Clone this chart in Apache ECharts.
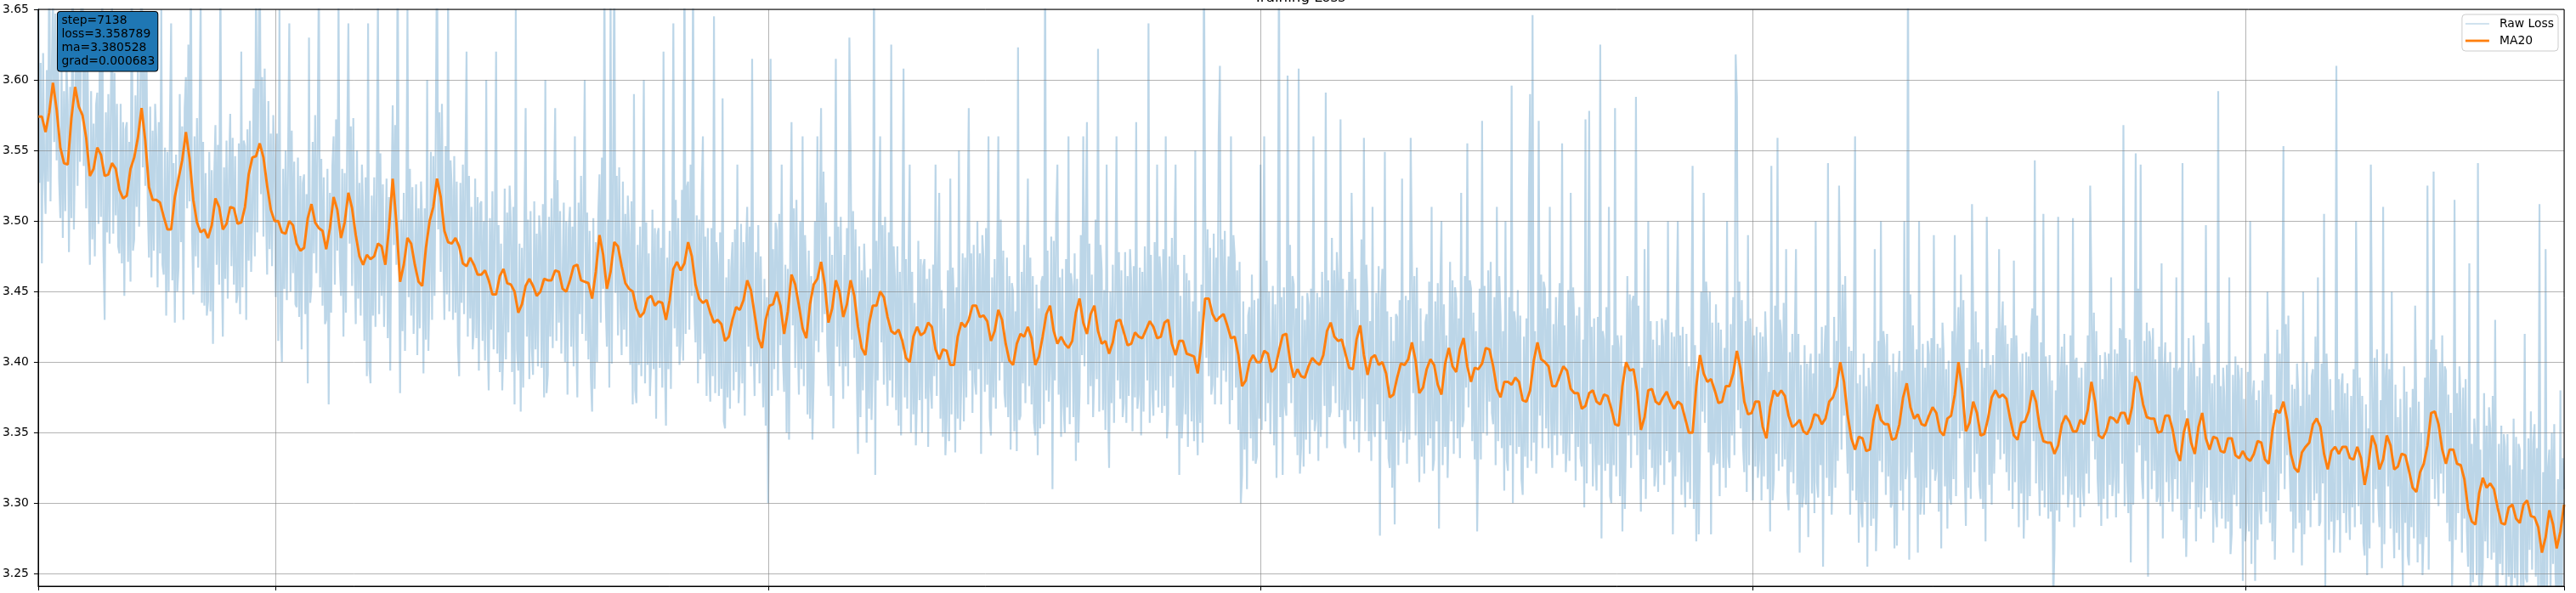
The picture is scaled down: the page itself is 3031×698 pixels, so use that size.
<!DOCTYPE html>
<html>
<head>
<meta charset="utf-8">
<title>Training Loss</title>
<script src="https://cdn.jsdelivr.net/npm/echarts@6.0.0/dist/echarts.min.js"></script>
<style>
  html, body { margin: 0; padding: 0; background: #fff; }
  #chart { width: 3031px; height: 698px; }
</style>
</head>
<body>
<div id="chart"></div>
<script>
// step of the first point and sampling of each series
var STEP_START = 1035;
var RAW_EVERY = 5;
var MA_EVERY = 15;

// raw loss, one value every RAW_EVERY steps
var rawLoss = [
  3.680, 3.527, 3.612, 3.470, 3.619, 3.535, 3.505, 3.607, 3.528, 3.700, 3.514, 3.604, 3.662, 3.556, 3.647, 3.543, 3.634, 3.530, 3.502, 3.609, 3.488, 3.592, 3.507, 3.611, 3.583, 3.478, 3.595, 3.502, 3.720, 3.494,
  3.554, 3.644, 3.525, 3.641, 3.542, 3.659, 3.690, 3.539, 3.622, 3.509, 3.628, 3.531, 3.469, 3.592, 3.487, 3.569, 3.475, 3.582, 3.591, 3.498, 3.614, 3.503, 3.680, 3.480, 3.430, 3.577, 3.492, 3.590, 3.484, 3.584,
  3.660, 3.491, 3.605, 3.504, 3.583, 3.482, 3.477, 3.583, 3.470, 3.570, 3.447, 3.565, 3.570, 3.471, 3.556, 3.457, 3.700, 3.479, 3.487, 3.589, 3.510, 3.608, 3.496, 3.586, 3.720, 3.538, 3.629, 3.525, 3.616, 3.512,
  3.474, 3.581, 3.460, 3.564, 3.479, 3.583, 3.558, 3.453, 3.570, 3.477, 3.650, 3.469, 3.462, 3.552, 3.433, 3.549, 3.450, 3.567, 3.640, 3.458, 3.541, 3.428, 3.547, 3.450, 3.467, 3.590, 3.485, 3.567, 3.430, 3.580,
  3.602, 3.509, 3.625, 3.514, 3.700, 3.491, 3.448, 3.560, 3.475, 3.573, 3.467, 3.567, 3.660, 3.442, 3.556, 3.440, 3.534, 3.433, 3.443, 3.549, 3.436, 3.536, 3.413, 3.531, 3.568, 3.469, 3.554, 3.455, 3.690, 3.477,
  3.418, 3.538, 3.459, 3.557, 3.445, 3.535, 3.576, 3.468, 3.559, 3.455, 3.546, 3.442, 3.448, 3.555, 3.434, 3.620, 3.453, 3.557, 3.553, 3.430, 3.565, 3.472, 3.571, 3.464, 3.504, 3.594, 3.475, 3.680, 3.492, 3.609,
  3.700, 3.519, 3.602, 3.489, 3.608, 3.511, 3.462, 3.585, 3.480, 3.562, 3.468, 3.575, 3.539, 3.446, 3.562, 3.415, 3.650, 3.428, 3.400, 3.537, 3.452, 3.550, 3.444, 3.544, 3.640, 3.450, 3.564, 3.463, 3.542, 3.441,
  3.439, 3.545, 3.432, 3.532, 3.409, 3.527, 3.533, 3.434, 3.519, 3.385, 3.630, 3.442, 3.454, 3.556, 3.477, 3.575, 3.463, 3.553, 3.680, 3.453, 3.544, 3.440, 3.531, 3.427, 3.430, 3.537, 3.370, 3.520, 3.435, 3.539,
  3.560, 3.455, 3.572, 3.479, 3.660, 3.471, 3.447, 3.537, 3.418, 3.534, 3.435, 3.552, 3.640, 3.484, 3.567, 3.454, 3.573, 3.476, 3.427, 3.550, 3.445, 3.527, 3.433, 3.540, 3.508, 3.415, 3.531, 3.390, 3.640, 3.397,
  3.385, 3.518, 3.433, 3.531, 3.425, 3.525, 3.660, 3.434, 3.548, 3.447, 3.526, 3.425, 3.424, 3.530, 3.417, 3.517, 3.394, 3.512, 3.582, 3.483, 3.568, 3.469, 3.700, 3.491, 3.378, 3.501, 3.422, 3.520, 3.408, 3.498,
  3.650, 3.446, 3.537, 3.433, 3.524, 3.420, 3.419, 3.526, 3.405, 3.509, 3.424, 3.528, 3.497, 3.392, 3.509, 3.416, 3.600, 3.408, 3.459, 3.549, 3.430, 3.546, 3.447, 3.564, 3.700, 3.494, 3.577, 3.464, 3.583, 3.486,
  3.430, 3.553, 3.448, 3.660, 3.436, 3.543, 3.523, 3.430, 3.546, 3.435, 3.528, 3.412, 3.390, 3.527, 3.442, 3.540, 3.434, 3.534, 3.620, 3.418, 3.532, 3.431, 3.510, 3.409, 3.424, 3.530, 3.417, 3.517, 3.394, 3.512,
  3.514, 3.415, 3.500, 3.401, 3.600, 3.423, 3.380, 3.502, 3.423, 3.521, 3.409, 3.499, 3.620, 3.406, 3.497, 3.393, 3.484, 3.380, 3.416, 3.523, 3.402, 3.506, 3.421, 3.525, 3.498, 3.393, 3.510, 3.370, 3.650, 3.409,
  3.394, 3.484, 3.365, 3.481, 3.382, 3.499, 3.580, 3.418, 3.501, 3.388, 3.507, 3.410, 3.391, 3.514, 3.409, 3.491, 3.397, 3.504, 3.489, 3.396, 3.512, 3.375, 3.600, 3.378, 3.391, 3.503, 3.418, 3.516, 3.410, 3.510,
  3.580, 3.415, 3.529, 3.428, 3.507, 3.406, 3.407, 3.513, 3.400, 3.500, 3.377, 3.495, 3.510, 3.411, 3.496, 3.397, 3.560, 3.419, 3.375, 3.513, 3.434, 3.532, 3.420, 3.510, 3.600, 3.415, 3.506, 3.402, 3.493, 3.389,
  3.365, 3.502, 3.381, 3.485, 3.400, 3.504, 3.533, 3.428, 3.545, 3.452, 3.680, 3.444, 3.411, 3.501, 3.382, 3.660, 3.399, 3.516, 3.690, 3.449, 3.532, 3.419, 3.538, 3.441, 3.405, 3.528, 3.423, 3.505, 3.411, 3.518,
  3.491, 3.398, 3.514, 3.370, 3.590, 3.380, 3.371, 3.483, 3.398, 3.496, 3.390, 3.490, 3.600, 3.385, 3.499, 3.398, 3.477, 3.376, 3.402, 3.508, 3.395, 3.495, 3.360, 3.490, 3.495, 3.396, 3.481, 3.382, 3.620, 3.404,
  3.355, 3.474, 3.395, 3.493, 3.381, 3.471, 3.640, 3.424, 3.515, 3.411, 3.502, 3.398, 3.415, 3.522, 3.401, 3.700, 3.420, 3.524, 3.528, 3.423, 3.540, 3.447, 3.680, 3.439, 3.414, 3.504, 3.385, 3.501, 3.402, 3.519,
  3.560, 3.406, 3.489, 3.376, 3.495, 3.398, 3.372, 3.495, 3.390, 3.645, 3.378, 3.485, 3.469, 3.376, 3.492, 3.381, 3.587, 3.358, 3.353, 3.460, 3.375, 3.473, 3.367, 3.467, 3.485, 3.380, 3.494, 3.393, 3.540, 3.371,
  3.392, 3.498, 3.385, 3.485, 3.362, 3.480, 3.510, 3.411, 3.496, 3.397, 3.615, 3.419, 3.376, 3.478, 3.399, 3.497, 3.385, 3.475, 3.476, 3.368, 3.459, 3.355, 3.446, 3.300, 3.390, 3.615, 3.376, 3.480, 3.395, 3.499,
  3.493, 3.380, 3.505, 3.412, 3.540, 3.404, 3.379, 3.469, 3.350, 3.466, 3.345, 3.484, 3.570, 3.426, 3.509, 3.396, 3.515, 3.418, 3.377, 3.500, 3.395, 3.560, 3.383, 3.490, 3.456, 3.363, 3.479, 3.360, 3.461, 3.345,
  3.388, 3.500, 3.415, 3.560, 3.407, 3.507, 3.580, 3.421, 3.535, 3.434, 3.513, 3.412, 3.383, 3.489, 3.376, 3.476, 3.353, 3.471, 3.615, 3.411, 3.496, 3.397, 3.503, 3.419, 3.374, 3.476, 3.397, 3.495, 3.383, 3.630,
  3.550, 3.416, 3.507, 3.403, 3.494, 3.390, 3.335, 3.482, 3.361, 3.465, 3.380, 3.484, 3.448, 3.343, 3.460, 3.367, 3.466, 3.359, 3.399, 3.700, 3.320, 3.486, 3.387, 3.504, 3.560, 3.414, 3.497, 3.384, 3.503, 3.406,
  3.369, 3.492, 3.387, 3.625, 3.375, 3.482, 3.459, 3.366, 3.482, 3.355, 3.464, 3.348, 3.348, 3.608, 3.375, 3.473, 3.367, 3.467, 3.540, 3.350, 3.464, 3.363, 3.442, 3.341, 3.380, 3.486, 3.373, 3.473, 3.350, 3.468,
  3.473, 3.374, 3.459, 3.340, 3.466, 3.382, 3.367, 3.469, 3.390, 3.540, 3.376, 3.466, 3.520, 3.360, 3.451, 3.347, 3.438, 3.334, 3.358, 3.465, 3.344, 3.530, 3.363, 3.467, 3.441, 3.336, 3.453, 3.360, 3.550, 3.352,
  3.387, 3.477, 3.358, 3.474, 3.375, 3.492, 3.580, 3.394, 3.477, 3.364, 3.483, 3.386, 3.377, 3.500, 3.395, 3.477, 3.335, 3.490, 3.472, 3.379, 3.495, 3.384, 3.560, 3.361, 3.348, 3.460, 3.375, 3.473, 3.367, 3.467,
  3.560, 3.387, 3.501, 3.400, 3.479, 3.378, 3.368, 3.474, 3.361, 3.461, 3.338, 3.456, 3.450, 3.351, 3.436, 3.337, 3.623, 3.359, 3.362, 3.464, 3.385, 3.483, 3.371, 3.461, 3.530, 3.383, 3.474, 3.370, 3.461, 3.357,
  3.348, 3.455, 3.334, 3.438, 3.353, 3.457, 3.461, 3.356, 3.700, 3.380, 3.479, 3.372, 3.399, 3.489, 3.310, 3.486, 3.387, 3.504, 3.540, 3.377, 3.460, 3.347, 3.466, 3.369, 3.350, 3.473, 3.368, 3.560, 3.356, 3.463,
  3.454, 3.361, 3.477, 3.330, 3.459, 3.343, 3.378, 3.490, 3.405, 3.560, 3.397, 3.497, 3.570, 3.370, 3.484, 3.383, 3.462, 3.361, 3.395, 3.501, 3.388, 3.622, 3.365, 3.483, 3.465, 3.366, 3.451, 3.352, 3.540, 3.374,
  3.325, 3.450, 3.371, 3.469, 3.357, 3.447, 3.560, 3.387, 3.478, 3.374, 3.465, 3.361, 3.371, 3.478, 3.357, 3.461, 3.376, 3.480, 3.456, 3.351, 3.468, 3.375, 3.570, 3.367, 3.377, 3.467, 3.348, 3.464, 3.365, 3.482,
  3.481, 3.387, 3.640, 3.357, 3.476, 3.379, 3.362, 3.485, 3.380, 3.540, 3.368, 3.475, 3.457, 3.364, 3.480, 3.369, 3.560, 3.346, 3.363, 3.475, 3.390, 3.488, 3.382, 3.482, 3.540, 3.355, 3.469, 3.320, 3.447, 3.346,
  3.370, 3.476, 3.363, 3.463, 3.340, 3.458, 3.457, 3.358, 3.443, 3.344, 3.550, 3.366, 3.334, 3.436, 3.357, 3.455, 3.343, 3.700, 3.511, 3.403, 3.494, 3.390, 3.481, 3.377, 3.384, 3.491, 3.370, 3.474, 3.389, 3.560,
  3.610, 3.370, 3.487, 3.394, 3.493, 3.386, 3.385, 3.475, 3.356, 3.560, 3.373, 3.490, 3.476, 3.382, 3.465, 3.352, 3.471, 3.300, 3.320, 3.443, 3.338, 3.420, 3.310, 3.433, 3.439, 3.346, 3.462, 3.330, 3.444, 3.328,
  3.333, 3.445, 3.360, 3.540, 3.352, 3.452, 3.560, 3.358, 3.472, 3.371, 3.450, 3.349, 3.348, 3.454, 3.341, 3.441, 3.318, 3.436, 3.700, 3.361, 3.446, 3.320, 3.453, 3.369, 3.362, 3.603, 3.385, 3.483, 3.371, 3.461,
  3.455, 3.347, 3.438, 3.334, 3.608, 3.321, 3.340, 3.447, 3.326, 3.430, 3.345, 3.449, 3.440, 3.335, 3.452, 3.359, 3.560, 3.351, 3.359, 3.449, 3.330, 3.446, 3.347, 3.464, 3.463, 3.369, 3.591, 3.339, 3.458, 3.361,
  3.365, 3.488, 3.383, 3.465, 3.371, 3.478, 3.454, 3.361, 3.572, 3.366, 3.459, 3.343, 3.339, 3.451, 3.366, 3.464, 3.358, 3.520, 3.450, 3.345, 3.459, 3.358, 3.437, 3.336, 3.381, 3.487, 3.374, 3.559, 3.351, 3.469,
  3.443, 3.344, 3.429, 3.330, 3.510, 3.352, 3.347, 3.449, 3.370, 3.468, 3.277, 3.446, 3.466, 3.358, 3.549, 3.345, 3.436, 3.332, 3.325, 3.432, 3.311, 3.415, 3.285, 3.434, 3.432, 3.327, 3.444, 3.351, 3.530, 3.343,
  3.357, 3.447, 3.328, 3.444, 3.345, 3.559, 3.472, 3.378, 3.461, 3.348, 3.467, 3.370, 3.315, 3.438, 3.333, 3.415, 3.321, 3.428, 3.434, 3.341, 3.457, 3.346, 3.510, 3.323, 3.331, 3.443, 3.358, 3.456, 3.282, 3.450,
  3.500, 3.327, 3.441, 3.340, 3.419, 3.318, 3.365, 3.471, 3.358, 3.458, 3.335, 3.453, 3.445, 3.346, 3.431, 3.332, 3.520, 3.354, 3.359, 3.461, 3.382, 3.555, 3.368, 3.458, 3.452, 3.344, 3.435, 3.331, 3.422, 3.280,
  3.345, 3.452, 3.331, 3.571, 3.350, 3.454, 3.453, 3.348, 3.465, 3.372, 3.471, 3.364, 3.356, 3.446, 3.327, 3.510, 3.344, 3.461, 3.433, 3.339, 3.422, 3.309, 3.500, 3.331, 3.323, 3.446, 3.341, 3.596, 3.300, 3.436,
  3.428, 3.335, 3.451, 3.340, 3.433, 3.317, 3.306, 3.418, 3.333, 3.431, 3.325, 3.520, 3.590, 3.330, 3.646, 3.343, 3.422, 3.321, 3.369, 3.571, 3.362, 3.462, 3.339, 3.457, 3.452, 3.353, 3.438, 3.339, 3.510, 3.361,
  3.325, 3.427, 3.348, 3.446, 3.334, 3.424, 3.456, 3.348, 3.555, 3.335, 3.426, 3.322, 3.344, 3.451, 3.330, 3.520, 3.349, 3.453, 3.421, 3.316, 3.433, 3.340, 3.439, 3.332, 3.326, 3.416, 3.297, 3.572, 3.314, 3.431,
  3.578, 3.342, 3.425, 3.312, 3.431, 3.334, 3.309, 3.432, 3.327, 3.625, 3.275, 3.422, 3.416, 3.323, 3.439, 3.328, 3.510, 3.305, 3.300, 3.412, 3.327, 3.580, 3.319, 3.419, 3.410, 3.305, 3.419, 3.280, 3.397, 3.296,
  3.355, 3.461, 3.348, 3.448, 3.325, 3.443, 3.447, 3.348, 3.588, 3.334, 3.440, 3.356, 3.294, 3.396, 3.317, 3.480, 3.303, 3.393, 3.500, 3.338, 3.429, 3.325, 3.416, 3.312, 3.322, 3.429, 3.308, 3.412, 3.327, 3.431,
  3.418, 3.313, 3.430, 3.337, 3.500, 3.329, 3.331, 3.421, 3.278, 3.418, 3.319, 3.436, 3.500, 3.336, 3.419, 3.306, 3.425, 3.328, 3.297, 3.420, 3.315, 3.397, 3.303, 3.410, 3.539, 3.296, 3.412, 3.273, 3.394, 3.278,
  3.338, 3.450, 3.365, 3.520, 3.357, 3.457, 3.441, 3.336, 3.450, 3.278, 3.428, 3.327, 3.335, 3.441, 3.328, 3.428, 3.305, 3.423, 3.424, 3.325, 3.410, 3.311, 3.500, 3.333, 3.325, 3.427, 3.348, 3.446, 3.334, 3.618,
  3.588, 3.366, 3.457, 3.353, 3.444, 3.340, 3.322, 3.429, 3.308, 3.490, 3.327, 3.431, 3.407, 3.302, 3.419, 3.326, 3.425, 3.318, 3.331, 3.421, 3.302, 3.418, 3.319, 3.436, 3.404, 3.310, 3.393, 3.280, 3.539, 3.302,
  3.317, 3.440, 3.335, 3.559, 3.323, 3.430, 3.419, 3.326, 3.442, 3.331, 3.480, 3.308, 3.295, 3.407, 3.322, 3.420, 3.314, 3.414, 3.480, 3.306, 3.420, 3.265, 3.398, 3.297, 3.306, 3.412, 3.299, 3.399, 3.276, 3.394,
  3.406, 3.307, 3.392, 3.293, 3.500, 3.315, 3.304, 3.406, 3.327, 3.425, 3.255, 3.403, 3.426, 3.318, 3.541, 3.305, 3.396, 3.292, 3.325, 3.432, 3.311, 3.415, 3.330, 3.525, 3.443, 3.338, 3.455, 3.362, 3.461, 3.354,
  3.321, 3.411, 3.292, 3.408, 3.309, 3.426, 3.560, 3.302, 3.385, 3.272, 3.391, 3.294, 3.283, 3.406, 3.301, 3.383, 3.255, 3.396, 3.377, 3.284, 3.400, 3.289, 3.480, 3.266, 3.303, 3.415, 3.330, 3.500, 3.322, 3.422,
  3.411, 3.306, 3.420, 3.319, 3.398, 3.297, 3.300, 3.406, 3.268, 3.393, 3.270, 3.388, 3.408, 3.309, 3.394, 3.295, 3.500, 3.317, 3.327, 3.700, 3.260, 3.448, 3.336, 3.426, 3.426, 3.318, 3.409, 3.265, 3.500, 3.292,
  3.306, 3.413, 3.292, 3.396, 3.311, 3.415, 3.405, 3.300, 3.417, 3.324, 3.490, 3.316, 3.323, 3.413, 3.294, 3.410, 3.268, 3.428, 3.406, 3.312, 3.395, 3.282, 3.401, 3.304, 3.299, 3.422, 3.317, 3.490, 3.305, 3.412,
  3.439, 3.346, 3.462, 3.351, 3.444, 3.328, 3.284, 3.396, 3.311, 3.409, 3.303, 3.512, 3.427, 3.322, 3.436, 3.335, 3.414, 3.313, 3.303, 3.409, 3.296, 3.396, 3.273, 3.503, 3.412, 3.313, 3.398, 3.299, 3.405, 3.321,
  3.322, 3.424, 3.345, 3.480, 3.331, 3.421, 3.443, 3.335, 3.426, 3.322, 3.413, 3.309, 3.310, 3.417, 3.296, 3.472, 3.315, 3.419, 3.388, 3.283, 3.400, 3.307, 3.406, 3.275, 3.317, 3.407, 3.288, 3.404, 3.305, 3.422,
  3.438, 3.344, 3.543, 3.314, 3.433, 3.336, 3.291, 3.414, 3.309, 3.505, 3.297, 3.404, 3.382, 3.289, 3.405, 3.294, 3.387, 3.230, 3.268, 3.380, 3.295, 3.503, 3.287, 3.387, 3.411, 3.306, 3.420, 3.319, 3.398, 3.297,
  3.313, 3.419, 3.306, 3.502, 3.283, 3.401, 3.403, 3.304, 3.389, 3.290, 3.396, 3.312, 3.298, 3.400, 3.321, 3.419, 3.307, 3.525, 3.452, 3.344, 3.435, 3.331, 3.422, 3.318, 3.298, 3.405, 3.284, 3.388, 3.303, 3.407,
  3.394, 3.289, 3.406, 3.313, 3.460, 3.305, 3.319, 3.409, 3.290, 3.406, 3.307, 3.424, 3.422, 3.328, 3.568, 3.298, 3.417, 3.320, 3.293, 3.416, 3.258, 3.393, 3.299, 3.406, 3.548, 3.336, 3.452, 3.341, 3.540, 3.318,
  3.303, 3.415, 3.330, 3.428, 3.248, 3.422, 3.415, 3.310, 3.424, 3.323, 3.402, 3.301, 3.305, 3.411, 3.298, 3.470, 3.275, 3.393, 3.414, 3.315, 3.400, 3.301, 3.407, 3.323, 3.294, 3.396, 3.317, 3.460, 3.303, 3.393,
  3.396, 3.288, 3.541, 3.275, 3.366, 3.262, 3.310, 3.417, 3.296, 3.400, 3.315, 3.419, 3.378, 3.273, 3.390, 3.297, 3.396, 3.289, 3.323, 3.413, 3.294, 3.497, 3.311, 3.428, 3.396, 3.302, 3.385, 3.272, 3.391, 3.294,
  3.283, 3.592, 3.301, 3.383, 3.289, 3.396, 3.375, 3.282, 3.398, 3.287, 3.460, 3.264, 3.279, 3.391, 3.306, 3.404, 3.298, 3.398, 3.387, 3.282, 3.396, 3.245, 3.374, 3.273, 3.287, 3.393, 3.280, 3.500, 3.257, 3.375,
  3.387, 3.245, 3.373, 3.274, 3.380, 3.296, 3.285, 3.387, 3.308, 3.406, 3.294, 3.450, 3.394, 3.286, 3.377, 3.273, 3.364, 3.260, 3.316, 3.423, 3.302, 3.406, 3.321, 3.425, 3.553, 3.310, 3.427, 3.334, 3.433, 3.326,
  3.294, 3.384, 3.265, 3.381, 3.282, 3.399, 3.380, 3.286, 3.369, 3.256, 3.450, 3.278, 3.277, 3.400, 3.295, 3.377, 3.283, 3.390, 3.395, 3.302, 3.418, 3.307, 3.460, 3.284, 3.287, 3.399, 3.314, 3.505, 3.241, 3.406,
  3.379, 3.274, 3.388, 3.287, 3.366, 3.265, 3.295, 3.610, 3.288, 3.388, 3.265, 3.383, 3.392, 3.293, 3.378, 3.279, 3.385, 3.301, 3.274, 3.376, 3.297, 3.395, 3.283, 3.500, 3.406, 3.298, 3.389, 3.285, 3.376, 3.272,
  3.263, 3.370, 3.249, 3.353, 3.268, 3.540, 3.391, 3.286, 3.403, 3.310, 3.409, 3.302, 3.283, 3.373, 3.254, 3.510, 3.271, 3.388, 3.406, 3.312, 3.395, 3.282, 3.450, 3.304, 3.261, 3.384, 3.279, 3.361, 3.267, 3.374,
  3.374, 3.240, 3.397, 3.286, 3.379, 3.263, 3.256, 3.368, 3.283, 3.381, 3.275, 3.440, 3.363, 3.258, 3.372, 3.271, 3.350, 3.249, 3.283, 3.389, 3.276, 3.525, 3.253, 3.371, 3.416, 3.317, 3.535, 3.303, 3.409, 3.325,
  3.298, 3.400, 3.321, 3.419, 3.307, 3.397, 3.394, 3.286, 3.377, 3.273, 3.364, 3.240, 3.288, 3.515, 3.274, 3.378, 3.293, 3.397, 3.370, 3.265, 3.382, 3.289, 3.388, 3.281, 3.255, 3.470, 3.226, 3.342, 3.244, 3.360,
  3.343, 3.249, 3.541, 3.219, 3.338, 3.241, 3.255, 3.378, 3.273, 3.355, 3.261, 3.368, 3.353, 3.260, 3.376, 3.265, 3.430, 3.242, 3.230, 3.342, 3.257, 3.355, 3.249, 3.349, 3.340, 3.235, 3.349, 3.248, 3.327, 3.226,
  3.254, 3.360, 3.247, 3.347, 3.224, 3.342, 3.338, 3.239, 3.324, 3.225, 3.420, 3.247, 3.244, 3.346, 3.267, 3.365, 3.253, 3.343, 3.356, 3.248, 3.339, 3.235, 3.512, 3.222, 3.210, 3.322, 3.201, 3.480, 3.220, 3.324,
  3.338, 3.233, 3.350, 3.257, 3.356, 3.249, 3.227, 3.317, 3.198, 3.380, 3.216, 3.332, 3.310
];

// 20-point moving average, one value every MA_EVERY steps
var ma20 = [
  3.574, 3.574, 3.563, 3.577, 3.598, 3.579, 3.552, 3.541, 3.540, 3.573, 3.595, 3.581, 3.575, 3.559, 3.532, 3.537, 3.552, 3.547, 3.532, 3.533,
  3.541, 3.537, 3.522, 3.516, 3.518, 3.537, 3.545, 3.559, 3.580, 3.557, 3.524, 3.515, 3.515, 3.513, 3.503, 3.494, 3.494, 3.517, 3.530, 3.543,
  3.563, 3.544, 3.515, 3.499, 3.492, 3.494, 3.488, 3.497, 3.516, 3.510, 3.494, 3.498, 3.510, 3.509, 3.498, 3.499, 3.510, 3.533, 3.545, 3.546,
  3.555, 3.545, 3.525, 3.508, 3.500, 3.500, 3.492, 3.491, 3.500, 3.497, 3.484, 3.479, 3.481, 3.502, 3.512, 3.499, 3.495, 3.493, 3.480, 3.495,
  3.517, 3.508, 3.488, 3.499, 3.520, 3.509, 3.490, 3.475, 3.469, 3.476, 3.473, 3.475, 3.484, 3.482, 3.469, 3.495, 3.530, 3.499, 3.457, 3.469,
  3.488, 3.484, 3.469, 3.457, 3.454, 3.481, 3.500, 3.510, 3.530, 3.517, 3.493, 3.485, 3.484, 3.488, 3.482, 3.470, 3.468, 3.474, 3.469, 3.462,
  3.462, 3.465, 3.458, 3.448, 3.448, 3.461, 3.466, 3.456, 3.455, 3.450, 3.435, 3.441, 3.454, 3.459, 3.454, 3.447, 3.450, 3.459, 3.458, 3.458,
  3.465, 3.464, 3.452, 3.450, 3.458, 3.468, 3.469, 3.458, 3.457, 3.456, 3.445, 3.464, 3.490, 3.476, 3.452, 3.464, 3.485, 3.482, 3.468, 3.456,
  3.452, 3.450, 3.438, 3.432, 3.435, 3.445, 3.447, 3.440, 3.443, 3.442, 3.430, 3.444, 3.466, 3.471, 3.465, 3.470, 3.485, 3.475, 3.455, 3.445,
  3.442, 3.444, 3.435, 3.428, 3.430, 3.427, 3.415, 3.418, 3.430, 3.439, 3.437, 3.444, 3.458, 3.451, 3.434, 3.417, 3.410, 3.430, 3.440, 3.441,
  3.450, 3.440, 3.420, 3.436, 3.462, 3.455, 3.440, 3.424, 3.417, 3.441, 3.455, 3.459, 3.471, 3.455, 3.428, 3.438, 3.458, 3.450, 3.432, 3.441,
  3.458, 3.447, 3.425, 3.410, 3.405, 3.427, 3.440, 3.440, 3.450, 3.446, 3.432, 3.422, 3.420, 3.423, 3.415, 3.403, 3.400, 3.418, 3.425, 3.419,
  3.421, 3.428, 3.425, 3.409, 3.402, 3.409, 3.408, 3.398, 3.398, 3.418, 3.428, 3.425, 3.430, 3.440, 3.440, 3.432, 3.433, 3.429, 3.415, 3.422,
  3.437, 3.430, 3.413, 3.401, 3.398, 3.413, 3.420, 3.418, 3.425, 3.417, 3.398, 3.404, 3.418, 3.434, 3.440, 3.422, 3.413, 3.418, 3.413, 3.410,
  3.415, 3.435, 3.445, 3.428, 3.420, 3.434, 3.440, 3.422, 3.413, 3.415, 3.406, 3.414, 3.429, 3.430, 3.421, 3.412, 3.413, 3.421, 3.418, 3.417,
  3.423, 3.429, 3.425, 3.417, 3.418, 3.428, 3.430, 3.413, 3.405, 3.415, 3.415, 3.406, 3.405, 3.404, 3.392, 3.414, 3.445, 3.445, 3.434, 3.429,
  3.432, 3.434, 3.426, 3.417, 3.418, 3.405, 3.383, 3.387, 3.400, 3.405, 3.400, 3.400, 3.408, 3.406, 3.393, 3.396, 3.408, 3.419, 3.420, 3.401,
  3.389, 3.395, 3.390, 3.389, 3.397, 3.403, 3.400, 3.398, 3.405, 3.422, 3.428, 3.418, 3.415, 3.416, 3.406, 3.396, 3.395, 3.416, 3.426, 3.405,
  3.391, 3.403, 3.405, 3.398, 3.400, 3.392, 3.375, 3.377, 3.389, 3.399, 3.398, 3.402, 3.414, 3.401, 3.378, 3.382, 3.395, 3.402, 3.398, 3.384,
  3.377, 3.399, 3.410, 3.397, 3.393, 3.409, 3.417, 3.397, 3.386, 3.396, 3.395, 3.399, 3.410, 3.409, 3.397, 3.381, 3.375, 3.386, 3.386, 3.384,
  3.389, 3.386, 3.373, 3.372, 3.380, 3.401, 3.414, 3.402, 3.400, 3.397, 3.383, 3.383, 3.390, 3.397, 3.394, 3.381, 3.378, 3.378, 3.367, 3.369,
  3.378, 3.380, 3.372, 3.370, 3.377, 3.376, 3.367, 3.356, 3.355, 3.383, 3.400, 3.394, 3.395, 3.379, 3.352, 3.361, 3.380, 3.381, 3.372, 3.370,
  3.375, 3.379, 3.372, 3.367, 3.372, 3.370, 3.360, 3.350, 3.350, 3.383, 3.405, 3.392, 3.386, 3.388, 3.380, 3.371, 3.372, 3.383, 3.383, 3.392,
  3.408, 3.395, 3.372, 3.363, 3.364, 3.372, 3.372, 3.354, 3.346, 3.368, 3.380, 3.376, 3.380, 3.376, 3.362, 3.354, 3.356, 3.359, 3.351, 3.349,
  3.354, 3.363, 3.362, 3.356, 3.360, 3.372, 3.375, 3.383, 3.400, 3.386, 3.362, 3.346, 3.338, 3.347, 3.346, 3.337, 3.338, 3.359, 3.370, 3.359,
  3.356, 3.356, 3.345, 3.346, 3.356, 3.375, 3.385, 3.368, 3.360, 3.363, 3.356, 3.355, 3.362, 3.368, 3.364, 3.351, 3.348, 3.360, 3.362, 3.377,
  3.400, 3.381, 3.351, 3.357, 3.372, 3.364, 3.348, 3.349, 3.360, 3.375, 3.380, 3.375, 3.377, 3.374, 3.360, 3.348, 3.345, 3.357, 3.358, 3.365,
  3.380, 3.372, 3.354, 3.344, 3.343, 3.343, 3.335, 3.341, 3.356, 3.362, 3.358, 3.351, 3.351, 3.359, 3.356, 3.366, 3.386, 3.372, 3.348, 3.346,
  3.351, 3.361, 3.360, 3.357, 3.364, 3.364, 3.356, 3.368, 3.390, 3.385, 3.370, 3.361, 3.360, 3.360, 3.350, 3.351, 3.362, 3.362, 3.352, 3.337,
  3.330, 3.350, 3.360, 3.343, 3.335, 3.354, 3.364, 3.346, 3.338, 3.347, 3.346, 3.337, 3.336, 3.346, 3.346, 3.334, 3.332, 3.337, 3.332, 3.330,
  3.335, 3.344, 3.343, 3.331, 3.328, 3.351, 3.366, 3.364, 3.372, 3.359, 3.335, 3.325, 3.322, 3.336, 3.340, 3.343, 3.356, 3.360, 3.354, 3.335,
  3.324, 3.337, 3.340, 3.335, 3.340, 3.340, 3.332, 3.331, 3.340, 3.332, 3.313, 3.327, 3.348, 3.341, 3.324, 3.331, 3.348, 3.341, 3.324, 3.326,
  3.335, 3.334, 3.323, 3.311, 3.308, 3.322, 3.328, 3.341, 3.364, 3.365, 3.356, 3.338, 3.328, 3.338, 3.338, 3.328, 3.327, 3.317, 3.296, 3.287,
  3.285, 3.307, 3.318, 3.311, 3.314, 3.310, 3.297, 3.286, 3.285, 3.297, 3.299, 3.289, 3.286, 3.299, 3.302, 3.291, 3.290, 3.283, 3.265, 3.276,
  3.295, 3.285, 3.268, 3.280, 3.299
];

// axis range
var STEP_MIN = 1035;
var STEP_MAX = 11295;
var LOSS_MIN = 3.2412;
var LOSS_MAX = 3.65;

// annotation box
var annoText = ['step=7138', 'loss=3.358789', 'ma=3.380528', 'grad=0.000683'];

var FONT = 'DejaVu Sans';

function toPoints(values, every) {
  return values.map(function (v, i) {
    return [STEP_START + i * every, v];
  });
}

var chart = echarts.init(document.getElementById('chart'));
var option = {
  animation: false,
  backgroundColor: '#ffffff',
  textStyle: { fontFamily: FONT },
  grid: {
    left: 41, right: 14, top: 11, bottom: 8,
    show: true, borderColor: '#000000', borderWidth: 1, z: 4
  },
  legend: {
    orient: 'vertical',
    right: 21, top: 17,
    padding: [4, 5, 5, 4],
    itemGap: 6,
    itemWidth: 28, itemHeight: 14,
    backgroundColor: 'rgba(255,255,255,0.8)',
    borderColor: '#cccccc', borderWidth: 1, borderRadius: 4,
    selectedMode: false,
    textStyle: { fontFamily: FONT, fontSize: 13.9, color: '#000000', padding: [0, 0, 0, 7] },
    data: [
      { name: 'Raw Loss', icon: 'path://M0,0L28,0L28,1.4L0,1.4Z' },
      { name: 'MA20', icon: 'path://M0,0L28,0L28,2.8L0,2.8Z' }
    ]
  },
  xAxis: {
    type: 'value',
    min: STEP_MIN, max: STEP_MAX,
    splitNumber: 5,
    z: 2,
    axisLine: { show: true, lineStyle: { color: '#000000', width: 1 } },
    axisTick: { show: true, length: 5, lineStyle: { color: '#000000', width: 1 } },
    axisLabel: { show: false },
    splitLine: { show: true, lineStyle: { color: 'rgba(128,128,128,0.6)', width: 1 } }
  },
  yAxis: {
    type: 'value',
    min: LOSS_MIN, max: LOSS_MAX,
    splitNumber: 8,
    z: 2,
    axisLine: { show: true, lineStyle: { color: '#000000', width: 1 } },
    axisTick: { show: true, length: 5, lineStyle: { color: '#000000', width: 1 } },
    axisLabel: {
      show: true, showMinLabel: false, margin: 11,
      fontFamily: FONT, fontSize: 13.9, color: '#000000',
      formatter: function (v) { return v.toFixed(2); }
    },
    splitLine: { show: true, lineStyle: { color: 'rgba(128,128,128,0.6)', width: 1 } }
  },
  graphic: [
    {
      type: 'text',
      x: 1529, y: -2, z: 10,
      style: {
        text: 'Training Loss',
        font: '16.7px "DejaVu Sans"',
        fill: '#000000',
        textAlign: 'center',
        textVerticalAlign: 'middle'
      }
    },
    {
      type: 'text',
      left: 67, top: 13, z: 10,
      style: {
        text: annoText.join('\n'),
        font: '13.9px "DejaVu Sans"',
        lineHeight: 16.1,
        fill: '#000000',
        backgroundColor: '#1f77b4',
        borderColor: '#000000',
        borderWidth: 1,
        borderRadius: 3,
        padding: [2, 3, 3, 4.5]
      }
    }
  ],
  series: [
    {
      name: 'Raw Loss',
      type: 'line',
      z: 1,
      color: '#bcd6e8',
      showSymbol: false,
      symbol: 'none',
      sampling: false,
      lineStyle: { color: '#bcd6e8', width: 2.2 },
      data: toPoints(rawLoss, RAW_EVERY)
    },
    {
      name: 'MA20',
      type: 'line',
      z: 3,
      color: '#ff7f0e',
      showSymbol: false,
      symbol: 'none',
      lineStyle: { color: '#ff7f0e', width: 3 },
      data: toPoints(ma20, MA_EVERY)
    }
  ]
};
chart.setOption(option);
window.addEventListener('resize', function () {
  chart.resize();
});
</script>
</body>
</html>
